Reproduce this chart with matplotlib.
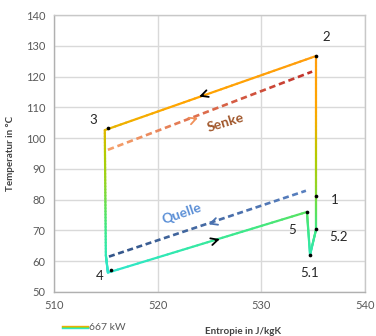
import numpy as np
import matplotlib
matplotlib.use("Agg")
import matplotlib.pyplot as plt
from matplotlib.collections import LineCollection
from matplotlib.colors import LinearSegmentedColormap, Normalize
from matplotlib.lines import Line2D

plt.rcParams['font.family'] = ['Lato', 'DejaVu Sans']

# ---- data ----
cycle_s = [515.2, 534.4, 534.7, 535.3, 535.3, 535.3, 514.9, 515.0, 515.2]
cycle_T = [56.3, 76.0, 62.1, 70.6, 81.1, 126.7, 102.6, 62.0, 56.3]

point_names = ["3", "2", "1", "5.2", "5.1", "5", "4"]
point_s = [515.2, 535.3, 535.3, 535.3, 534.7, 534.4, 515.5]
point_T = [103.3, 126.7, 81.1, 70.6, 62.1, 76.0, 57.2]
label_s = [513.8, 536.3, 537.1, 537.4, 534.7, 533.0, 514.4]
label_T = [105.8, 132.9, 80.0, 68.0, 56.3, 70.2, 55.3]

senke_s = [515.2, 534.9]
senke_T = [96.2, 121.6]
quelle_s = [515.3, 534.3]
quelle_T = [61.5, 82.9]

xticks = [510, 520, 530, 540]
yticks = [50, 60, 70, 80, 90, 100, 110, 120, 130, 140]
legend_label = "667 kW"

# ---- colours ----
tcmap = LinearSegmentedColormap.from_list("temp", [
    (0.00, '#30e6d0'), (0.08, '#30e8b4'), (0.20, '#40e884'), (0.30, '#66e050'),
    (0.40, '#98d420'), (0.52, '#b4cc00'), (0.66, '#f0b000'), (0.74, '#ffa500'),
    (1.00, '#ff9c10')])
tnorm = Normalize(vmin=56, vmax=130)

fig = plt.figure(figsize=(3.76, 3.36), dpi=100)
ax = fig.add_axes([54/376, 1-292/336, 311/376, 277/336])
ax.set_xlim(510, 540)
ax.set_ylim(50, 140)
ax.set_xticks(xticks)
ax.set_yticks(yticks)
ax.grid(True, color='#d9d9d9', lw=1.0)
ax.set_axisbelow(True)
for sp in ax.spines.values():
    sp.set_color('#c8c8c8')
    sp.set_linewidth(1.0)
ax.spines['left'].set_color('#b0b0b0')
ax.spines['bottom'].set_color('#b0b0b0')
ax.tick_params(length=0, labelsize=8, labelcolor='#595959', pad=6)


def gradient_segments(xs, ys, n=40):
    segs, vals = [], []
    for i in range(len(xs) - 1):
        t = np.linspace(0, 1, n + 1)
        sx = xs[i] + (xs[i+1] - xs[i]) * t
        sy = ys[i] + (ys[i+1] - ys[i]) * t
        for j in range(n):
            segs.append([(sx[j], sy[j]), (sx[j+1], sy[j+1])])
            vals.append(0.5 * (sy[j] + sy[j+1]))
    return segs, np.array(vals)

segs, vals = gradient_segments(cycle_s, cycle_T)
lc = LineCollection(segs, colors=tcmap(tnorm(vals)), linewidths=1.6,
                    capstyle='round', joinstyle='round', zorder=4)
ax.add_collection(lc)


def grad_dashed(xs, ys, c0, c1, ndash=22):
    cm = LinearSegmentedColormap.from_list("g", [c0, c1])
    t = np.linspace(0, 1, 2 * ndash)
    dsegs, cols = [], []
    for k in range(ndash):
        a, b = t[2*k], t[2*k] + (t[1] - t[0]) * 1.25
        b = min(b, 1.0)
        dsegs.append([(xs[0] + (xs[1]-xs[0])*a, ys[0] + (ys[1]-ys[0])*a),
                      (xs[0] + (xs[1]-xs[0])*b, ys[0] + (ys[1]-ys[0])*b)])
        cols.append(cm(a))
    ax.add_collection(LineCollection(dsegs, colors=cols, linewidths=1.9, zorder=3))

grad_dashed(senke_s, senke_T, '#f5a06a', '#c0302a', ndash=22)
grad_dashed(quelle_s, quelle_T, '#34568a', '#5880c0', ndash=22)


def head(x, y, xs, ys, color, forward=True):
    dx = xs[1] - xs[0]; dy = ys[1] - ys[0]
    L = np.hypot(dx, dy)
    ux, uy = dx / L, dy / L
    if not forward:
        ux, uy = -ux, -uy
    ax.annotate('', xy=(x, y), xytext=(x - ux * 0.6, y - uy * 0.6),
                arrowprops=dict(arrowstyle='->,head_length=0.5,head_width=0.25',
                                color=color, lw=1.3, shrinkA=0, shrinkB=0),
                zorder=6)

head(524.0, 113.5, [535.3, 514.9], [126.7, 102.6], 'black')
head(526.0, 67.2, [515.2, 534.4], [56.3, 76.0], 'black')
head(523.9, 106.6, senke_s, senke_T, '#f0905a')
head(524.9, 72.0, quelle_s, quelle_T, '#4a72b0', forward=False)

# state points
ax.scatter(point_s, point_T, s=7, color='black', zorder=7, linewidths=0)
for name, xs_, ys_ in zip(point_names, label_s, label_T):
    ax.text(xs_, ys_, name, fontsize=9.5, color='#262626', ha='center', va='center',
            zorder=8)

ax.text(526.6, 105.0, "Senke", fontsize=10, fontweight='bold', color='#a0562a',
        rotation=17, ha='center', va='center', zorder=8)
ax.text(522.3, 75.3, "Quelle", fontsize=10, fontweight='bold', color='#5b8fd6',
        rotation=19, ha='center', va='center', zorder=8)

ax.set_ylabel("Temperatur in °C", fontsize=7, fontweight='bold', color='#404040')
ax.yaxis.set_label_coords(-0.125, 0.5)
ax.set_xlabel("Entropie in J/kgK", fontsize=7, fontweight='bold', color='#404040')
ax.xaxis.set_label_coords(0.608, -0.125)

# legend (manual)
for dy, c in [(-1.0, '#ffa500'), (0.0, '#90d820'), (1.0, '#30e6c8')]:
    y = 1 - (327 + dy) / 336
    fig.add_artist(Line2D([62/376, 88/376], [y, y], color=c, lw=1.0,
                          transform=fig.transFigure))
fig.text(89/376, 1 - 327/336, legend_label, fontsize=7.5, color='#595959',
         ha='left', va='center')

fig.savefig("out.png", dpi=100)
